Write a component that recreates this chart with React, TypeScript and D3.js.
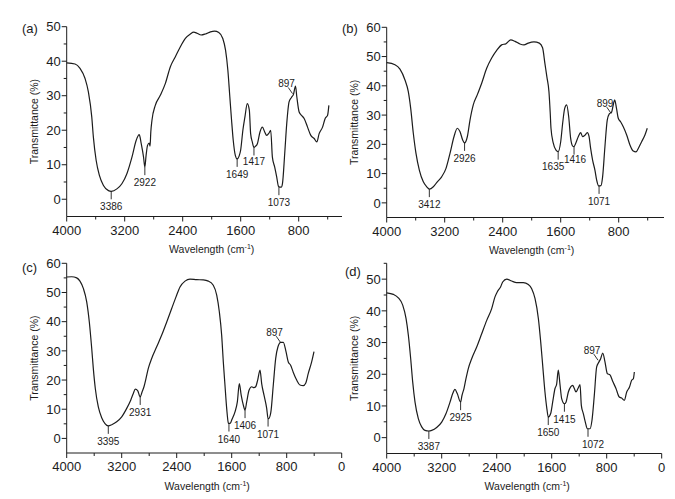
import React from 'react';
import * as d3 from 'd3';

type Pt = [number, number];

// ---- data ----
const xTicksMajor = [4000, 3200, 2400, 1600, 800, 0];
const xTicksMinor = [3600, 2800, 2000, 1200, 400];
const yTicks50 = [0, 10, 20, 30, 40, 50];
const yMinor50 = [5, 15, 25, 35, 45];
const yTicks60 = [0, 10, 20, 30, 40, 50, 60];
const yMinor60 = [5, 15, 25, 35, 45, 55];
const yMinor55 = [5, 15, 25, 35, 45, 55];

const spectrumA: Pt[] = [
  [4000, 39.5], [3885, 39.2], [3816, 37.9], [3747, 35.0], [3701, 31.1], [3654, 23.8], [3632, 18.0], [3594, 11.3],
  [3549, 6.9], [3493, 4.0], [3424, 2.5], [3386, 2.3], [3308, 3.0], [3239, 4.5], [3170, 7.4], [3100, 12.2],
  [3041, 17.1], [2999, 18.7], [2972, 16.1], [2940, 12.2], [2922, 9.3], [2905, 12.7], [2885, 15.6], [2862, 16.3],
  [2850, 15.4], [2840, 19.5], [2824, 22.9], [2778, 27.2], [2709, 30.1], [2640, 33.5], [2570, 38.4], [2501, 41.3],
  [2432, 44.2], [2363, 46.6], [2294, 47.9], [2248, 48.4], [2202, 48.1], [2146, 47.6], [2086, 47.9], [2017, 48.5],
  [1962, 48.7], [1902, 48.3], [1847, 46.6], [1809, 43.2], [1777, 37.4], [1750, 29.7], [1726, 22.9], [1703, 17.1],
  [1675, 12.8], [1649, 11.7], [1622, 12.5], [1601, 14.2], [1570, 20.0], [1542, 23.8], [1509, 27.7], [1481, 25.8],
  [1463, 19.0], [1440, 16.6], [1417, 15.0], [1398, 15.3], [1370, 16.1], [1334, 19.5], [1301, 20.9], [1269, 19.5],
  [1242, 18.5], [1209, 19.2], [1186, 20.0], [1163, 12.2], [1131, 9.3], [1103, 6.4], [1080, 3.8], [1063, 3.5],
  [1040, 3.5], [1024, 4.5], [993, 13.2], [965, 21.9], [933, 28.2], [900, 29.5], [872, 30.4], [844, 32.8],
  [826, 29.7], [794, 25.3], [761, 24.3], [725, 23.4], [678, 20.9], [633, 18.5], [587, 17.6], [550, 16.6],
  [518, 19.0], [471, 20.9], [435, 23.4], [402, 24.3], [384, 27.2],
];

const spectrumB: Pt[] = [
  [4000, 47.9], [3886, 47.2], [3817, 45.7], [3748, 42.0], [3702, 38.0], [3669, 32.3], [3633, 23.8], [3596, 16.9],
  [3550, 11.2], [3495, 7.2], [3448, 5.5], [3412, 4.7], [3357, 5.5], [3302, 7.2], [3242, 8.9], [3182, 11.8],
  [3127, 16.9], [3072, 22.6], [3026, 25.5], [2990, 24.4], [2952, 21.5], [2926, 20.5], [2888, 22.6], [2851, 28.3],
  [2806, 33.5], [2751, 36.9], [2690, 40.9], [2621, 46.0], [2552, 49.5], [2483, 52.1], [2414, 54.0], [2354, 54.4],
  [2290, 55.7], [2230, 55.2], [2162, 54.3], [2106, 54.0], [2047, 54.6], [1969, 55.0], [1895, 54.6], [1850, 53.0],
  [1817, 47.5], [1790, 43.0], [1762, 38.0], [1745, 31.0], [1734, 25.5], [1703, 20.5], [1665, 18.0], [1635, 17.5],
  [1600, 20.9], [1573, 27.2], [1545, 32.3], [1518, 33.5], [1490, 29.5], [1463, 22.1], [1435, 19.4], [1416, 19.2],
  [1394, 20.3], [1358, 22.6], [1325, 24.0], [1298, 22.6], [1266, 23.1], [1233, 24.0], [1210, 22.8], [1187, 18.6],
  [1160, 14.6], [1128, 11.2], [1104, 7.8], [1077, 5.8], [1045, 5.9], [1022, 8.9], [990, 19.2], [958, 28.3],
  [930, 30.4], [898, 31.0], [875, 33.5], [856, 35.2], [829, 32.1], [806, 28.9], [774, 27.7], [737, 26.0],
  [690, 23.2], [645, 19.8], [599, 17.7], [562, 17.4], [530, 18.6], [484, 20.9], [438, 23.2], [406, 25.5],
];

const spectrumC: Pt[] = [
  [4000, 55.3], [3927, 55.4], [3855, 55.0], [3807, 53.9], [3758, 51.4], [3709, 46.8], [3671, 39.9], [3636, 30.8],
  [3613, 24.0], [3584, 17.1], [3540, 10.8], [3491, 7.1], [3443, 5.1], [3395, 4.3], [3345, 4.7], [3273, 5.7],
  [3200, 7.4], [3127, 10.3], [3069, 13.1], [3031, 15.4], [3002, 16.9], [2968, 16.4], [2931, 14.2], [2905, 15.8],
  [2876, 17.7], [2847, 20.5], [2813, 24.0], [2764, 27.4], [2691, 31.4], [2618, 35.4], [2545, 39.9], [2473, 44.5],
  [2410, 48.5], [2352, 51.9], [2279, 53.9], [2207, 54.6], [2110, 54.4], [2013, 54.3], [1940, 53.9], [1868, 52.5],
  [1818, 49.1], [1780, 43.4], [1746, 35.4], [1722, 26.2], [1698, 18.3], [1673, 10.3], [1649, 5.3], [1640, 5.1],
  [1617, 5.3], [1600, 6.3], [1552, 9.1], [1518, 12.5], [1489, 18.8], [1462, 14.8], [1431, 11.4], [1406, 9.7],
  [1382, 12.5], [1348, 16.5], [1309, 17.7], [1276, 17.4], [1252, 17.7], [1222, 20.0], [1188, 23.4], [1164, 18.8],
  [1130, 14.8], [1091, 10.3], [1071, 6.8], [1062, 6.8], [1031, 8.9], [995, 18.3], [960, 27.4], [927, 31.4],
  [887, 32.9], [849, 32.9], [810, 29.7], [777, 26.2], [743, 25.1], [704, 22.6], [655, 20.0], [607, 18.3],
  [558, 18.1], [524, 18.9], [486, 22.3], [437, 26.2], [403, 29.7],
];

const spectrumD: Pt[] = [
  [4000, 45.7], [3903, 45.2], [3831, 44.1], [3767, 41.8], [3719, 37.6], [3685, 32.3], [3651, 24.9], [3622, 17.6],
  [3588, 11.2], [3540, 6.0], [3491, 3.4], [3443, 2.3], [3387, 2.1], [3345, 2.3], [3273, 3.2], [3200, 4.9],
  [3137, 7.6], [3079, 11.2], [3040, 13.9], [3007, 15.2], [2974, 13.9], [2925, 11.2], [2905, 13.3], [2876, 15.5],
  [2847, 18.6], [2813, 21.8], [2764, 24.9], [2691, 28.6], [2618, 32.8], [2545, 37.0], [2473, 40.7], [2425, 44.4],
  [2391, 46.0], [2342, 47.6], [2313, 49.1], [2255, 50.0], [2183, 49.4], [2110, 48.9], [2013, 48.9], [1940, 48.3],
  [1891, 47.0], [1843, 43.9], [1794, 37.6], [1760, 30.2], [1731, 22.8], [1698, 14.4], [1670, 9.1], [1650, 6.5],
  [1615, 7.6], [1586, 11.2], [1552, 15.5], [1528, 16.9], [1504, 21.3], [1480, 16.9], [1455, 12.3], [1415, 10.7],
  [1392, 11.2], [1358, 14.4], [1324, 16.0], [1295, 16.5], [1271, 15.5], [1247, 14.4], [1218, 15.5], [1188, 16.7],
  [1169, 10.2], [1140, 7.6], [1111, 4.9], [1082, 2.8], [1043, 2.8], [1014, 5.5], [980, 13.4], [946, 22.3],
  [912, 23.9], [888, 24.9], [858, 26.7], [825, 23.9], [791, 20.2], [752, 19.8], [713, 17.8], [665, 15.5],
  [617, 12.8], [583, 12.5], [544, 11.8], [509, 14.4], [470, 15.9], [437, 18.1], [412, 18.6], [398, 20.7],
];

// peak labels: text, wavenumber, transmittance at the tip of the marker
const peaksA = [
  { text: '3386', w: 3386, t: 2.3 }, { text: '2922', w: 2922, t: 9.3 }, { text: '1649', w: 1649, t: 11.7 },
  { text: '1417', w: 1417, t: 15.0 }, { text: '1073', w: 1073, t: 3.5 },
];
const peaksB = [
  { text: '3412', w: 3412, t: 4.7 }, { text: '2926', w: 2926, t: 20.5 }, { text: '1635', w: 1635, t: 17.5 },
  { text: '1416', w: 1416, t: 19.2 }, { text: '1071', w: 1071, t: 5.8 },
];
const peaksC = [
  { text: '3395', w: 3395, t: 4.3 }, { text: '2931', w: 2931, t: 14.2 }, { text: '1640', w: 1640, t: 5.1 },
  { text: '1406', w: 1406, t: 9.7 }, { text: '1071', w: 1071, t: 6.8 },
];
const peaksD = [
  { text: '3387', w: 3387, t: 2.1 }, { text: '2925', w: 2925, t: 11.2 }, { text: '1650', w: 1650, t: 6.5 },
  { text: '1415', w: 1415, t: 10.7 }, { text: '1072', w: 1072, t: 2.8 },
];
const shoulderA = { text: '897', w: 885, t: 30.6 };
const shoulderB = { text: '899', w: 905, t: 30.6 };
const shoulderC = { text: '897', w: 890, t: 32.9 };
const shoulderD = { text: '897', w: 925, t: 24.4 };

// ---- layout / style ----
const FONT = "'Liberation Sans', Arial, Helvetica, sans-serif";
const INK = '#1c1c1c';
const nudges: Record<string, { dx: number; dy: number }> = {
  'b1635': { dx: -5, dy: -1 },
  'b1416': { dx: 1, dy: -3 },
  'a1417': { dx: 0, dy: -1 },
  'd1072': { dx: 5, dy: 0 },
};

const panels = [
  { id: 'a', tag: '(a)', data: spectrumA, peaks: peaksA, shoulder: shoulderA, yDomain: [-5, 50], yMajor: yTicks50, yMinor: yMinor50,
    left: 66.7, right: 356.7, clip: 342, top: 26.7, bottom: 216.5, tagX: 22, tagY: 33, titleDx: 0 },
  { id: 'b', tag: '(b)', data: spectrumB, peaks: peaksB, shoulder: shoulderB, yDomain: [-5, 60], yMajor: yTicks60, yMinor: yMinor60,
    left: 386.7, right: 676.7, clip: 664, top: 27.3, bottom: 217.5, tagX: 342, tagY: 33, titleDx: 0 },
  { id: 'c', tag: '(c)', data: spectrumC, peaks: peaksC, shoulder: shoulderC, yDomain: [-5, 60], yMajor: yTicks60, yMinor: yMinor60,
    left: 66.7, right: 341.7, clip: 341.7, top: 263.3, bottom: 453, tagX: 22, tagY: 272, titleDx: 3 },
  { id: 'd', tag: '(d)', data: spectrumD, peaks: peaksD, shoulder: shoulderD, yDomain: [-5, 55], yMajor: yTicks50, yMinor: yMinor55,
    left: 386.7, right: 661.7, clip: 661.7, top: 263.3, bottom: 453.5, tagX: 345, tagY: 276, titleDx: 3 },
];

function Panel({ p }: { p: (typeof panels)[number] }) {
  const x = d3.scaleLinear().domain([4000, 0]).range([p.left, p.right]);
  const y = d3.scaleLinear().domain(p.yDomain).range([p.bottom, p.top]);
  const line = d3.line<Pt>().x(d => x(d[0])).y(d => y(d[1])).curve(d3.curveMonotoneX);
  const inX = (v: number) => x(v) <= p.clip + 0.5;
  const midX = (p.left + p.right) / 2 + p.titleDx;
  const midY = (p.top + p.bottom) / 2;
  const sx = x(p.shoulder.w), sy = y(p.shoulder.t);
  return (
    <g>
      {/* axes */}
      <line x1={p.left} x2={p.left} y1={p.bottom} y2={p.top} stroke={INK} strokeWidth={1} />
      <line x1={p.left} x2={p.clip} y1={p.bottom} y2={p.bottom} stroke={INK} strokeWidth={1} />
      {p.yMajor.map(v => (
        <g key={'ym' + v}>
          <line x1={p.left - 5} x2={p.left} y1={y(v)} y2={y(v)} stroke={INK} />
          <text x={p.left - 6} y={y(v)} dy="0.36em" textAnchor="end" fontSize={13} fill={INK}>{v}</text>
        </g>
      ))}
      {p.yMinor.map(v => (
        <line key={'yn' + v} x1={p.left - 3} x2={p.left} y1={y(v)} y2={y(v)} stroke={INK} />
      ))}
      {xTicksMajor.filter(inX).map(v => (
        <g key={'xm' + v}>
          <line x1={x(v)} x2={x(v)} y1={p.bottom} y2={p.bottom + 5} stroke={INK} />
          <text x={x(v)} y={p.bottom + 18} textAnchor="middle" fontSize={13} fill={INK}>{v}</text>
        </g>
      ))}
      {xTicksMinor.filter(inX).map(v => (
        <line key={'xn' + v} x1={x(v)} x2={x(v)} y1={p.bottom} y2={p.bottom + 3} stroke={INK} />
      ))}
      {/* titles */}
      <text x={midX} y={p.bottom + 36.5} textAnchor="middle" fontSize={10.5} fill={INK}>
        Wavelength (cm<tspan dy={-4} fontSize={7}>-1</tspan><tspan dy={4}>)</tspan>
      </text>
      <text transform={`translate(${p.left - 28.5},${midY}) rotate(-90)`} textAnchor="middle" fontSize={10.5} fill={INK}>
        Transmittance (%)
      </text>
      <text x={p.tagX} y={p.tagY} fontSize={13} fill={INK}>{p.tag}</text>
      {/* spectrum */}
      <path d={line(p.data) || ''} fill="none" stroke={INK} strokeWidth={1.2} strokeLinejoin="round" />
      {/* peak markers */}
      {p.peaks.map(pk => {
        const n = nudges[p.id + pk.text] || { dx: 0, dy: 0 };
        const px = x(pk.w), py = y(pk.t);
        return (
          <g key={pk.text}>
            <line x1={px} x2={px} y1={py} y2={py + 8} stroke={INK} strokeWidth={0.9} />
            <text x={px + n.dx} y={py + 19 + n.dy} textAnchor="middle" fontSize={10} fill={INK}>{pk.text}</text>
          </g>
        );
      })}
      <line x1={sx - 4.3} y1={sy - 6.2} x2={sx} y2={sy} stroke={INK} strokeWidth={0.9} />
      <text x={sx - 6} y={sy - 6.5} textAnchor="middle" fontSize={10} fill={INK}>{p.shoulder.text}</text>
    </g>
  );
}

export default function App() {
  return (
    <svg width={675} height={499} style={{ position: 'absolute', left: 0, top: 0, background: '#fff' }} fontFamily={FONT}>
      <rect width={675} height={499} fill="#fff" />
      {panels.map(p => <Panel key={p.id} p={p} />)}
    </svg>
  );
}
